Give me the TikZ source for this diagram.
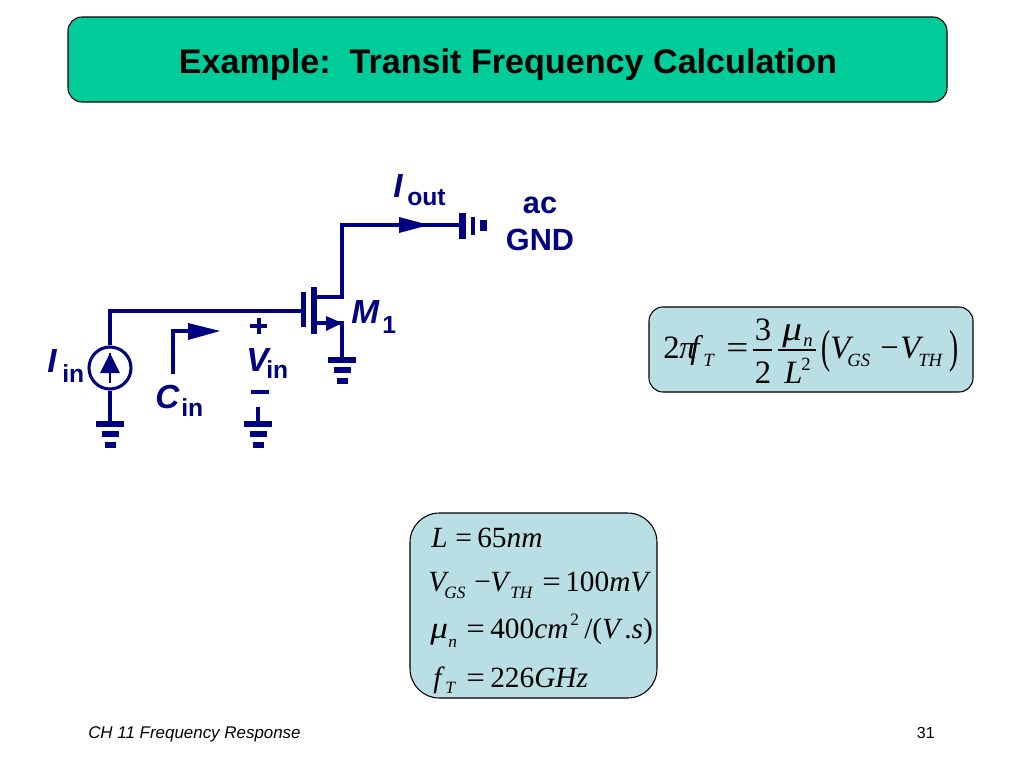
\documentclass[tikz,border=0pt]{standalone}
\usepackage{fontspec}
\setmainfont{Liberation Serif}
\setsansfont{Liberation Sans}
\usepackage{tikz}
\definecolor{navyink}{HTML}{000080}
\definecolor{titlegreen}{HTML}{00CC99}
\definecolor{boxblue}{HTML}{B9DEE3}
\tikzset{
  wire/.style={navyink, line width=2.3pt},
  cirbig/.style={navyink, inner sep=0pt, anchor=base west, font=\sffamily\bfseries\itshape\fontsize{25}{25}\selectfont},
  cirsub/.style={navyink, inner sep=0pt, anchor=base west, font=\sffamily\bfseries\fontsize{18.5}{19}\selectfont},
  cirtxt/.style={navyink, inner sep=0pt, anchor=base, font=\sffamily\bfseries\fontsize{23}{23}\selectfont},
  eqbig/.style={inner sep=0pt, anchor=base west, font=\fontsize{24.5}{25}\selectfont},
  eqsmall/.style={inner sep=0pt, anchor=base west, font=\fontsize{22}{22}\selectfont},
  eqsub/.style={inner sep=0pt, anchor=base west, font=\fontsize{14}{14}\selectfont\itshape},
  eqsubb/.style={inner sep=0pt, anchor=base west, font=\fontsize{13}{13}\selectfont\itshape},
}
\newcommand{\gndsym}[2]{%
  \fill[navyink] (#1-14,#2) rectangle (#1+14,#2+6);
  \fill[navyink] (#1-8.5,#2+10) rectangle (#1+8.5,#2+16);
  \fill[navyink] (#1-5.5,#2+21) rectangle (#1+5.5,#2+27);
}
\newcommand{\wideeq}[1]{\scalebox{#1}[1]{=}}
\newcommand{\bigmu}{\scalebox{1.2}[1.05]{\textit{μ}}}
\begin{document}
\begin{tikzpicture}[x=0.75pt, y=-0.75pt]
\useasboundingbox (0,0) rectangle (1024,768);
% title
\draw[fill=titlegreen, line width=0.8pt, rounded corners=10.5pt] (68,17) rectangle (947,102);
\node[inner sep=0pt, font=\sffamily\bfseries\fontsize{25.6}{26}\selectfont] (title) at (508,64.5) {Example:\ \ Transit Frequency Calculation};
% input side
\coordinate (G) at (301,311) ;
\coordinate (K) at (110,311) ;
\node[draw=navyink, line width=2.3pt, circle, minimum size=31.5pt, inner sep=0pt] (Isrc) at (110,368) {};
\draw[wire] (G) -- (K) -- (Isrc.north) ;
\coordinate (GndA) at (110,421) ;
\draw[wire] (Isrc.south) -- (GndA) ;
\gndsym{110}{421}
\coordinate (ArrTop) at (110,353) ;
\coordinate (ArrStem) at (110,383) ;
\draw[navyink, line width=1.8pt] (ArrTop) -- (ArrStem) ;
\fill[navyink] (ArrTop) -- (120,373) -- (100,373) -- cycle ;
% gate and channel plates
\fill[navyink] (301,292) rectangle (306,327) ;
\fill[navyink] (311,287) rectangle (317,334) ;
% drain
\coordinate (D) at (317,297) ;
\coordinate (Dc) at (342,297) ;
\coordinate (Tc) at (342,225) ;
\coordinate (Acg) at (460,225) ;
\draw[wire] (D) -- (Dc) -- (Tc) -- (Acg) ;
\fill[navyink] (399,217) -- (429,225) -- (399,233) -- cycle ;
\fill[navyink] (459,213) rectangle (466,239) ;
\fill[navyink] (471,217) rectangle (475,235) ;
\fill[navyink] (480,220) rectangle (487,231) ;
% source
\coordinate (S) at (317,323) ;
\coordinate (Sc) at (342,323) ;
\coordinate (GndB) at (342,357) ;
\draw[wire] (S) -- (Sc) -- (GndB) ;
\fill[navyink] (326,316) -- (342,323) -- (326,331) -- cycle ;
\gndsym{342}{357}
% input capacitance arrow
\coordinate (Ca) at (173,374) ;
\coordinate (Cb) at (173,331) ;
\coordinate (Cc) at (188,331) ;
\draw[wire] (Ca) -- (Cb) -- (Cc) ;
\fill[navyink] (188,323) -- (220,331) -- (188,340) -- cycle ;
% Vin port
\coordinate (Pa) at (250,326) ;
\coordinate (Pb) at (267,326) ;
\coordinate (Pc) at (259,318) ;
\coordinate (Pd) at (259,334) ;
\draw[wire] (Pa) -- (Pb) ;
\draw[wire] (Pc) -- (Pd) ;
\coordinate (Ma) at (251,392) ;
\coordinate (Mb) at (269,392) ;
\draw[wire] (Ma) -- (Mb) ;
\coordinate (Ta) at (258,407) ;
\coordinate (Tb) at (258,421) ;
\draw[wire] (Ta) -- (Tb) ;
\gndsym{258}{421}
% circuit labels
\node[cirbig] (lI) at (47,372) {I};
\node[cirsub] (lIin) at (62,382) {in};
\node[cirbig] (lC) at (155,408) {C};
\node[cirsub] (lCin) at (181,416) {in};
\node[cirbig] (lV) at (246,371) {V};
\node[cirsub] (lVin) at (266,378) {in};
\node[cirbig] (lIo) at (393,197) {I};
\node[cirsub] (lIout) at (407,205) {out};
\node[cirbig] (lM) at (351,323) {M};
\node[cirsub] (lM1) at (382,333) {1};
\node[cirtxt] (lac) at (540,213) {ac};
\node[cirtxt] (lgnd) at (540,250) {GND};
% first formula
\draw[fill=boxblue, line width=0.8pt, rounded corners=10.5pt] (649,307) rectangle (973,392);
\node[eqbig] (ftwo) at (663,358) {2};
\node[eqbig] (fpi) at (679,358) {\textit{π}};
\node[eqbig] (ff) at (690,358) {\textit{f}};
\node[eqsub] (fT) at (703,366) {T};
\node[eqbig] (feq) at (726,358) {\wideeq{1.2}};
\node[eqbig, anchor=base] (fthree) at (763,340) {3};
\node[eqbig, anchor=base] (ftwob) at (763,383) {2};
\coordinate (BarA) at (753,350) ;
\coordinate (BarB) at (772,350) ;
\draw[line width=0.8pt] (BarA) -- (BarB) ;
\node[eqbig] (fmu) at (782,340) {\bigmu};
\node[eqsub] (fn) at (803,346) {n};
\node[eqbig] (fL) at (784,383) {\textit{L}};
\node[eqsub, font=\fontsize{14}{14}\selectfont] (fsq) at (801,370) {2};
\coordinate (BarC) at (778,350) ;
\coordinate (BarD) at (816,350) ;
\draw[line width=0.8pt] (BarC) -- (BarD) ;
\node[inner sep=0pt, font=\fontsize{24}{24}\selectfont] (fpl) at (826,351) {\scalebox{0.85}[1.45]{(}};
\node[eqbig] (fV) at (830,358) {\textit{V}};
\node[eqsub] (fGS) at (847,366) {GS};
\node[eqbig] (fm) at (880,358) {−};
\node[eqbig] (fVb) at (900,358) {\textit{V}};
\node[eqsub] (fTH) at (918,366) {TH};
\node[inner sep=0pt, font=\fontsize{24}{24}\selectfont] (fpr) at (954,351) {\scalebox{0.85}[1.45]{)}};
% second formula box
\draw[fill=boxblue, line width=0.8pt, rounded corners=22pt] (410,513) rectangle (657,698);
\node[eqsmall] (aL) at (431,547) {\textit{L}};
\node[eqsmall] (aeq) at (455,547) {=};
\node[eqsmall] (aval) at (477,547) {65\textit{nm}};
\node[eqsmall] (bV) at (428,591) {\textit{V}};
\node[eqsubb] (bGS) at (444,598) {GS};
\node[eqsmall] (bm) at (474,591) {−};
\node[eqsmall] (bVb) at (490,591) {\textit{V}};
\node[eqsubb] (bTH) at (510,598) {TH};
\node[eqsmall] (beq) at (542,591) {\wideeq{1.12}};
\node[eqsmall] (bval) at (565,591) {100\textit{mV}};
\node[eqsmall] (cmu) at (430,638) {\bigmu};
\node[eqsubb] (cn) at (448,647) {n};
\node[eqsmall] (ceq) at (466,638) {\wideeq{1.12}};
\node[eqsmall] (cval) at (490,638) {400\textit{cm}};
\node[eqsubb, font=\fontsize{13}{13}\selectfont] (csq) at (570,625) {2};
\node[eqsmall] (cunit) at (584,638) {/(\textit{V}\kern1pt.\textit{s})};
\node[eqsmall] (df) at (433,687) {\textit{f}};
\node[eqsubb] (dT) at (445,693) {T};
\node[eqsmall] (deq) at (466,687) {\wideeq{1.12}};
\node[eqsmall] (dval) at (490,687) {226\textit{GH}\kern-1pt\textit{z}};
% footer
\node[inner sep=0pt, anchor=base west, font=\sffamily\itshape\fontsize{12.7}{13}\selectfont] (foot) at (88,738) {CH 11 Frequency Response};
\node[inner sep=0pt, anchor=base east, font=\sffamily\fontsize{12}{12}\selectfont] (page) at (935,738) {31};
\end{tikzpicture}
\end{document}
